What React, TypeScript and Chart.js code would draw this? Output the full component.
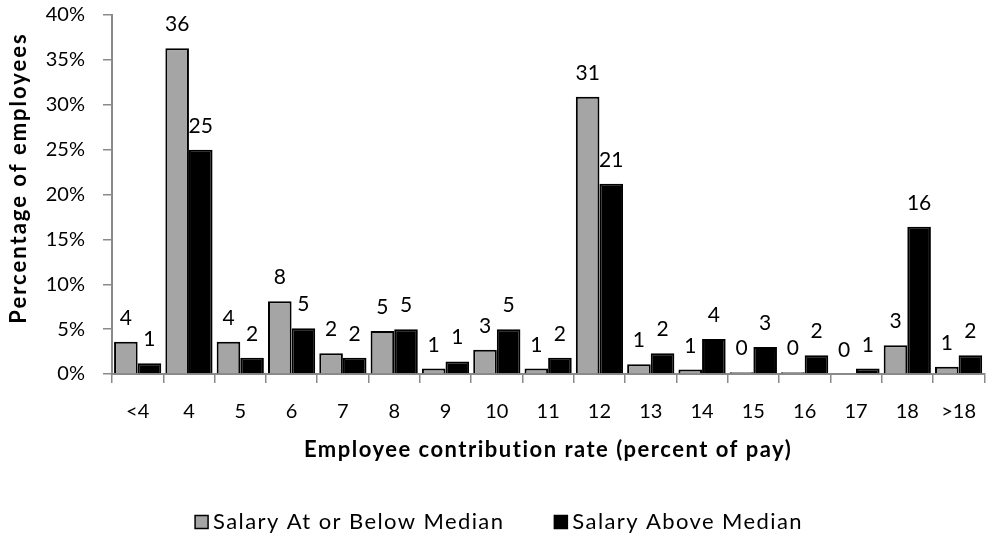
import React, { useEffect, useRef } from "react";
import { Chart, registerables } from "chart.js";

Chart.register(...registerables);

const categories = ["<4", "4", "5", "6", "7", "8", "9", "10", "11", "12", "13", "14", "15", "16", "17", "18", ">18"];
const belowMedian = [3.6, 36.3, 3.6, 8.1, 2.3, 4.8, 0.6, 2.7, 0.6, 30.9, 1.1, 0.5, 0.2, 0.2, 0.0, 3.2, 0.8];
const aboveMedian = [1.2, 25.0, 1.8, 5.1, 1.8, 5.0, 1.4, 5.0, 1.8, 21.2, 2.3, 3.9, 3.0, 2.1, 0.6, 16.4, 2.1];
const seriesNames = ["Salary At or Below Median", "Salary Above Median"];
const seriesColors = ["#a5a5a5", "#000000"];
const yTitle = "Percentage of employees";
const xTitle = "Employee contribution rate (percent of pay)";

const FONT = "Lato, 'Open Sans', sans-serif";
const AXIS = "#8a8a8a";

const barLabels = {
  id: "barLabels",
  afterDatasetsDraw(chart: any) {
    const ctx = chart.ctx;
    ctx.save();
    ctx.font = `21px ${FONT}`;
    ctx.fillStyle = "#000";
    ctx.textAlign = "center";
    ctx.textBaseline = "alphabetic";
    chart.data.datasets.forEach((ds: any, i: number) => {
      const meta = chart.getDatasetMeta(i);
      meta.data.forEach((el: any, j: number) => {
        const v = ds.data[j];
        ctx.fillText(String(Math.round(v)), el.x, el.y - 17);
      });
    });
    ctx.restore();
  },
};

const extras = {
  id: "extras",
  afterDraw(chart: any) {
    const ctx = chart.ctx;
    const area = chart.chartArea;

    // y axis title
    ctx.save();
    ctx.font = `bold 22px ${FONT}`;
    (ctx as any).letterSpacing = "2px";
    ctx.fillStyle = "#000";
    ctx.textAlign = "center";
    ctx.textBaseline = "middle";
    ctx.translate(19, 178);
    ctx.rotate(-Math.PI / 2);
    ctx.fillText(yTitle, 0, 0);
    ctx.restore();

    // x axis title
    ctx.save();
    ctx.font = `bold 22px ${FONT}`;
    (ctx as any).letterSpacing = "1.5px";
    ctx.fillStyle = "#000";
    ctx.textAlign = "center";
    ctx.textBaseline = "middle";
    ctx.fillText(xTitle, (area.left + area.right) / 2, 450);
    ctx.restore();

    // legend
    ctx.save();
    ctx.font = `22px ${FONT}`;
    (ctx as any).letterSpacing = "1.4px";
    ctx.textBaseline = "middle";
    ctx.textAlign = "left";
    const box = 13;
    const gapText = 5;
    const gapItem = 50;
    const widths = seriesNames.map((n) => ctx.measureText(n).width);
    const total = widths.reduce((a, w) => a + box + gapText + w, 0) + gapItem;
    let x = 499 - total / 2;
    const cy = 522;
    seriesNames.forEach((n, i) => {
      ctx.fillStyle = seriesColors[i];
      ctx.fillRect(x, cy - box / 2, box, box);
      ctx.strokeStyle = "#000";
      ctx.lineWidth = 1.5;
      ctx.strokeRect(x, cy - box / 2, box, box);
      ctx.fillStyle = "#000";
      ctx.fillText(n, x + box + gapText, cy);
      x += box + gapText + widths[i] + gapItem;
    });
    ctx.restore();
  },
};

export default function App() {
  const ref = useRef<HTMLCanvasElement | null>(null);

  useEffect(() => {
    if (!ref.current) return;
    const chart = new Chart(ref.current, {
      type: "bar",
      data: {
        labels: categories,
        datasets: [
          {
            label: seriesNames[0],
            data: belowMedian,
            backgroundColor: seriesColors[0],
            borderColor: "#000",
            borderWidth: 2,
            categoryPercentage: 0.92,
            barPercentage: 1.0,
          },
          {
            label: seriesNames[1],
            data: aboveMedian,
            backgroundColor: seriesColors[1],
            borderColor: "#000",
            borderWidth: 2,
            categoryPercentage: 0.92,
            barPercentage: 1.0,
          },
        ],
      },
      options: {
        animation: false,
        responsive: true,
        maintainAspectRatio: false,
        layout: { padding: { top: 15, right: 0, bottom: 60, left: 0 } },
        plugins: {
          legend: { display: false },
          tooltip: { enabled: false },
        },
        scales: {
          x: {
            grid: {
              offset: true,
              drawOnChartArea: false,
              color: AXIS,
              tickLength: 9,
              lineWidth: 1.5,
            },
            border: { color: AXIS, width: 2 },
            ticks: { font: { family: FONT, size: 20 }, color: "#000", padding: 17, maxRotation: 0, autoSkip: false },
            afterFit: (scale: any) => {
              scale.height = 106;
            },
          },
          y: {
            min: 0,
            max: 40,
            grid: {
              drawOnChartArea: false,
              color: AXIS,
              tickLength: 9,
              lineWidth: 1.5,
            },
            border: { color: AXIS, width: 2 },
            ticks: {
              stepSize: 5,
              font: { family: FONT, size: 20 },
              color: "#000",
              padding: 18,
              callback: (v: any) => `${v}%`,
            },
            afterFit: (scale: any) => {
              scale.width = 112;
              scale.paddingTop = 0;
              scale.paddingBottom = 0;
            },
          },
        },
      },
      plugins: [barLabels, extras],
    });
    return () => chart.destroy();
  }, []);

  return (
    <div style={{ position: "fixed", left: 0, top: 0, width: 987, height: 540, overflow: "hidden", background: "#fff" }}>
      <div style={{ position: "relative", width: 993, height: 540 }}>
        <canvas ref={ref} />
      </div>
    </div>
  );
}
